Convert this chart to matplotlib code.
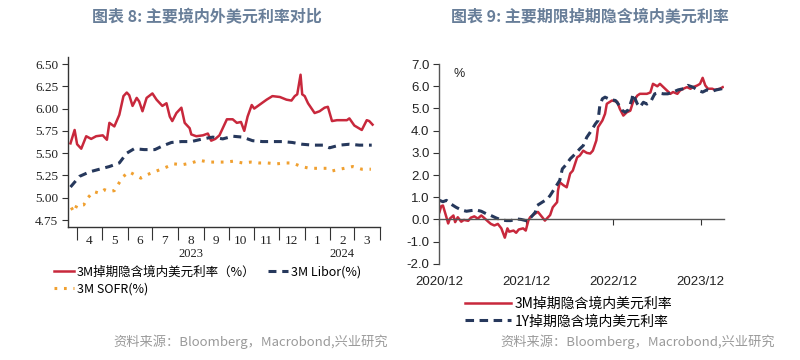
import pandas as pd
import matplotlib
matplotlib.use("Agg")
import matplotlib.pyplot as plt
import matplotlib.dates as mdates
import matplotlib.transforms as mtransforms
from matplotlib.ticker import FuncFormatter, NullFormatter, FixedLocator

plt.rcParams['font.family'] = ['Noto Sans CJK SC', 'DejaVu Sans']

RED = '#C8283C'
NAVY = '#26385C'
ORANGE = '#F0A030'
TITLE_C = '#687E99'
SRC_C = '#9A9A9A'

# ---- chart 8 data ----
red_dates = ['2023-03-24', '2023-03-29', '2023-04-01', '2023-04-06', '2023-04-12', '2023-04-18',
             '2023-04-24', '2023-05-02', '2023-05-07', '2023-05-10', '2023-05-16', '2023-05-22',
             '2023-05-27', '2023-05-31', '2023-06-03', '2023-06-07', '2023-06-12', '2023-06-15',
             '2023-06-19', '2023-06-24', '2023-07-01', '2023-07-06', '2023-07-13', '2023-07-18',
             '2023-07-22', '2023-07-25', '2023-07-30', '2023-08-05', '2023-08-09', '2023-08-15',
             '2023-08-17', '2023-08-23', '2023-08-31', '2023-09-06', '2023-09-10', '2023-09-15',
             '2023-09-20', '2023-09-29', '2023-10-06', '2023-10-11', '2023-10-16', '2023-10-20',
             '2023-10-24', '2023-10-29', '2023-11-01', '2023-11-07', '2023-11-16', '2023-11-23',
             '2023-12-02', '2023-12-10', '2023-12-16', '2023-12-20', '2023-12-23', '2023-12-27',
             '2023-12-29', '2024-01-01', '2024-01-05', '2024-01-13', '2024-01-19', '2024-01-25',
             '2024-01-29', '2024-02-03', '2024-02-09', '2024-02-21', '2024-02-24', '2024-03-01',
             '2024-03-10', '2024-03-16', '2024-03-19', '2024-03-23']
red_vals = [5.61, 5.76, 5.60, 5.55, 5.69, 5.66,
            5.69, 5.70, 5.65, 5.84, 5.80, 5.93,
            6.14, 6.18, 6.15, 6.03, 6.12, 6.08,
            5.97, 6.12, 6.17, 6.10, 6.03, 6.06,
            5.91, 5.86, 5.95, 6.01, 5.84, 5.78,
            5.71, 5.69, 5.70, 5.72, 5.64, 5.66,
            5.70, 5.88, 5.88, 5.84, 5.85, 5.75,
            5.91, 6.04, 6.00, 6.04, 6.10, 6.14,
            6.13, 6.10, 6.09, 6.14, 6.16, 6.38,
            6.16, 6.14, 6.06, 5.95, 5.97, 6.01,
            6.02, 5.86, 5.87, 5.87, 5.89, 5.81,
            5.76, 5.87, 5.86, 5.82]

libor_dates = ['2023-03-24', '2023-04-04', '2023-04-16', '2023-04-28', '2023-05-10', '2023-05-22',
               '2023-05-31', '2023-06-09', '2023-06-21', '2023-07-04', '2023-07-13', '2023-07-24',
               '2023-08-05', '2023-08-17', '2023-08-31', '2023-09-12', '2023-09-24', '2023-10-06',
               '2023-10-18', '2023-10-30', '2023-11-11', '2023-11-23', '2023-12-05', '2023-12-17',
               '2023-12-29', '2024-01-11', '2024-01-23', '2024-01-31', '2024-02-12', '2024-02-24',
               '2024-03-07', '2024-03-22']
libor_vals = [5.12, 5.24, 5.29, 5.32, 5.35, 5.39,
              5.50, 5.55, 5.54, 5.54, 5.58, 5.62,
              5.63, 5.63, 5.66, 5.68, 5.66, 5.69,
              5.68, 5.64, 5.63, 5.63, 5.63, 5.62,
              5.60, 5.59, 5.59, 5.56, 5.59, 5.60,
              5.59, 5.59]

sofr_dates = ['2023-03-25', '2023-03-28', '2023-04-01', '2023-04-09', '2023-04-14', '2023-04-21',
              '2023-04-28', '2023-05-04', '2023-05-10', '2023-05-16', '2023-05-22', '2023-05-27',
              '2023-06-03', '2023-06-09', '2023-06-17', '2023-06-25', '2023-07-06', '2023-07-17',
              '2023-07-27', '2023-08-06', '2023-08-17', '2023-08-27', '2023-09-07', '2023-09-18',
              '2023-09-27', '2023-10-07', '2023-10-18', '2023-10-28', '2023-11-07', '2023-11-17',
              '2023-11-28', '2023-12-08', '2023-12-17', '2023-12-28', '2024-01-07', '2024-01-17',
              '2024-01-28', '2024-02-03', '2024-02-12', '2024-02-18', '2024-02-28', '2024-03-10',
              '2024-03-21']
sofr_vals = [4.89, 4.84, 4.92, 4.92, 5.00, 5.07,
             5.05, 5.09, 5.07, 5.08, 5.17, 5.24,
             5.29, 5.26, 5.22, 5.26, 5.30, 5.34,
             5.38, 5.37, 5.39, 5.42, 5.40, 5.40,
             5.40, 5.41, 5.39, 5.40, 5.39, 5.39,
             5.38, 5.39, 5.39, 5.35, 5.33, 5.33,
             5.33, 5.30, 5.32, 5.33, 5.35, 5.32,
             5.32]

# ---- chart 9 data (x in decimal years) ----
m3_t = [2020.92, 2020.94, 2020.96, 2021.00, 2021.02, 2021.04, 2021.08, 2021.10, 2021.13, 2021.17,
        2021.20, 2021.25, 2021.28, 2021.32, 2021.36, 2021.40, 2021.43, 2021.48, 2021.51, 2021.55,
        2021.59, 2021.63, 2021.67, 2021.70, 2021.72, 2021.77, 2021.80, 2021.83, 2021.88, 2021.91,
        2021.94, 2021.96, 2022.02, 2022.05, 2022.10, 2022.13, 2022.19, 2022.22, 2022.27, 2022.28,
        2022.30, 2022.34, 2022.38, 2022.42, 2022.45, 2022.50, 2022.53, 2022.57, 2022.61, 2022.65,
        2022.68, 2022.72, 2022.74, 2022.79, 2022.82, 2022.84, 2022.90, 2022.96, 2022.99, 2023.03,
        2023.07, 2023.11, 2023.14, 2023.19, 2023.22, 2023.30, 2023.34, 2023.37, 2023.42, 2023.45,
        2023.49, 2023.53, 2023.57, 2023.60, 2023.65, 2023.68, 2023.72, 2023.76, 2023.80, 2023.83,
        2023.88, 2023.91, 2023.94, 2023.97, 2024.00, 2024.05, 2024.08, 2024.14, 2024.17]
m3_vals = [0.33, 0.60, 0.63, 0.10, -0.18, 0.04, 0.18, -0.12, 0.10, -0.10,
           -0.02, -0.06, 0.08, 0.14, 0.04, 0.18, 0.08, -0.10, -0.20, -0.27,
           -0.20, -0.40, -0.82, -0.40, -0.55, -0.50, -0.60, -0.45, -0.40, -0.50,
           -0.05, 0.10, 0.27, 0.34, 0.10, -0.05, 0.20, 0.55, 0.78, 1.30,
           1.68, 1.55, 1.45, 2.07, 2.20, 2.80, 2.88, 3.10, 3.00, 2.97,
           3.10, 3.56, 4.16, 4.46, 4.76, 5.21, 5.36, 5.30, 4.98, 4.68,
           4.83, 4.90, 5.28, 5.58, 5.66, 5.66, 5.72, 6.11, 6.00, 6.11,
           5.96, 5.81, 5.66, 5.74, 5.66, 5.81, 5.89, 5.96, 5.89, 5.96,
           6.04, 6.11, 6.38, 6.04, 5.89, 5.89, 5.84, 5.89, 5.96]

y1_t = [2020.92, 2020.96, 2021.00, 2021.05, 2021.11, 2021.17, 2021.23, 2021.28, 2021.34, 2021.40,
        2021.46, 2021.51, 2021.57, 2021.63, 2021.69, 2021.74, 2021.80, 2021.86, 2021.91, 2021.97,
        2022.02, 2022.04, 2022.10, 2022.16, 2022.19, 2022.25, 2022.30, 2022.33, 2022.38, 2022.42,
        2022.48, 2022.53, 2022.57, 2022.61, 2022.65, 2022.71, 2022.74, 2022.76, 2022.79, 2022.82,
        2022.88, 2022.94, 2022.97, 2023.02, 2023.05, 2023.09, 2023.13, 2023.14, 2023.19, 2023.22,
        2023.26, 2023.30, 2023.34, 2023.39, 2023.43, 2023.49, 2023.54, 2023.60, 2023.66, 2023.72,
        2023.77, 2023.83, 2023.89, 2023.94, 2023.99, 2024.05, 2024.10, 2024.16, 2024.20]
y1_vals = [0.86, 0.80, 0.86, 0.70, 0.55, 0.43, 0.37, 0.40, 0.43, 0.37,
           0.25, 0.18, 0.07, -0.02, -0.05, -0.05, 0.03, 0.00, -0.05, 0.10,
           0.33, 0.63, 0.78, 0.93, 1.08, 1.45, 1.76, 2.28, 2.50, 2.73,
           2.96, 3.18, 3.33, 3.70, 3.93, 4.31, 4.46, 5.13, 5.44, 5.51,
           5.40, 5.36, 5.21, 4.91, 4.83, 4.95, 5.44, 5.66, 5.21, 5.06,
           5.28, 5.20, 5.28, 5.66, 5.70, 5.66, 5.66, 5.74, 5.84, 5.89,
           6.04, 5.96, 5.81, 5.74, 5.84, 5.78, 5.84, 5.89, 6.00]

year_ticks = [2020.917, 2021.917, 2022.917, 2023.917]
year_tick_labels = ['2020/12', '2021/12', '2022/12', '2023/12']

fig = plt.figure(figsize=(8, 3.6), dpi=100)

# ================= left chart =================
ax1 = fig.add_axes([0.085, 0.369, 0.39, 0.473])
ax1.plot(pd.to_datetime(red_dates), red_vals, color=RED, lw=1.8,
         label='3M掉期隐含境内美元利率（%）')
ax1.plot(pd.to_datetime(sofr_dates), sofr_vals, color=ORANGE, lw=2.2,
         linestyle=(0, (0.9, 2.2)), label='3M SOFR(%)')
ax1.plot(pd.to_datetime(libor_dates), libor_vals, color=NAVY, lw=2.2,
         linestyle=(0, (2.6, 1.9)), label='3M Libor(%)')

ax1.set_xlim(pd.Timestamp('2023-03-21'), pd.Timestamp('2024-04-01'))
ax1.set_ylim(4.67, 6.58)
ax1.set_yticks([4.75, 5.00, 5.25, 5.50, 5.75, 6.00, 6.25, 6.50])
ax1.yaxis.set_major_formatter(FuncFormatter(lambda v, p: '%.2f' % v))
for s in ['top', 'right']:
    ax1.spines[s].set_visible(False)
for s in ['left', 'bottom']:
    ax1.spines[s].set_color('#333333')
    ax1.spines[s].set_linewidth(1.0)

ax1.xaxis.set_major_locator(mdates.MonthLocator())
ax1.xaxis.set_major_formatter(NullFormatter())
ax1.xaxis.set_minor_locator(mdates.MonthLocator(bymonthday=16))
ax1.xaxis.set_minor_formatter(FuncFormatter(lambda v, p: str(mdates.num2date(v).month)))
ax1.tick_params(axis='x', which='major', length=4, direction='out', color='#333333')
ax1.tick_params(axis='x', which='minor', length=0, pad=6)
ax1.tick_params(axis='y', length=4, direction='out', color='#333333', pad=3)
for t in ax1.xaxis.get_major_ticks():
    if mdates.num2date(t.get_loc()).month == 1:
        t.tick1line.set_markersize(9)
for lab in ax1.get_xticklabels(minor=True) + ax1.get_yticklabels():
    lab.set_fontfamily('Liberation Serif')
    lab.set_fontsize(9.5)
    lab.set_color('#222222')

trans1 = mtransforms.blended_transform_factory(ax1.transData, ax1.transAxes)
ax1.text(mdates.date2num(pd.Timestamp('2023-08-17')), -0.16, '2023', transform=trans1,
         ha='center', va='center', fontsize=9, family='Liberation Serif', color='#222222')
ax1.text(mdates.date2num(pd.Timestamp('2024-02-15')), -0.16, '2024', transform=trans1,
         ha='center', va='center', fontsize=9, family='Liberation Serif', color='#222222')

ax1.legend(loc='upper left', bbox_to_anchor=(-0.045, -0.225), ncol=2, frameon=False,
           fontsize=9, handlelength=1.6, handletextpad=0.25, columnspacing=1.0,
           labelspacing=0.3, borderaxespad=0, borderpad=0)

# ================= right chart =================
ax2 = fig.add_axes([0.549, 0.267, 0.356, 0.555])
ax2.plot(m3_t, m3_vals, color=RED, lw=1.8, label='3M掉期隐含境内美元利率')
ax2.plot(y1_t, y1_vals, color=NAVY, lw=2.2, linestyle=(0, (2.8, 1.8)),
         label='1Y掉期隐含境内美元利率')
ax2.set_xlim(2020.917, 2024.185)
ax2.set_ylim(-2.0, 7.0)
ax2.set_yticks([-2, -1, 0, 1, 2, 3, 4, 5, 6, 7])
ax2.yaxis.set_major_formatter(FuncFormatter(lambda v, p: '%.1f' % v))
ax2.xaxis.set_major_locator(FixedLocator(year_ticks))
ax2.set_xticklabels(year_tick_labels)
ax2.spines['top'].set_visible(False)
ax2.spines['right'].set_visible(False)
ax2.spines['bottom'].set_position(('data', 0))
for s in ['left', 'bottom']:
    ax2.spines[s].set_color('#555555')
    ax2.spines[s].set_linewidth(1.0)
ax2.tick_params(axis='x', length=4, direction='out', color='#333333', pad=37, labelsize=9.5)
ax2.tick_params(axis='y', length=4, direction='out', color='#333333', pad=3, labelsize=9.5)
for lab in ax2.get_xticklabels() + ax2.get_yticklabels():
    lab.set_fontfamily('Liberation Sans')
    lab.set_color('#222222')
ax2.text(0.05, 0.95, '%', transform=ax2.transAxes, fontsize=9, family='Liberation Sans',
         color='#222222', va='center', ha='left')
ax2.legend(loc='upper left', bbox_to_anchor=(0.09, -0.165), ncol=1, frameon=False,
           fontsize=10, handlelength=3.3, handletextpad=0.3, labelspacing=0.25,
           borderaxespad=0, borderpad=0)

# ================= titles / sources =================
fig.text(0.259, 0.953, '图表 8: 主要境内外美元利率对比', ha='center', va='center',
         fontsize=11.5, fontweight='bold', color=TITLE_C)
fig.text(0.738, 0.953, '图表 9: 主要期限掉期隐含境内美元利率', ha='center', va='center',
         fontsize=11.5, fontweight='bold', color=TITLE_C)
fig.text(0.485, 0.05, '资料来源：Bloomberg，Macrobond,兴业研究', ha='right', va='center',
         fontsize=9.5, color=SRC_C)
fig.text(0.969, 0.052, '资料来源：Bloomberg，Macrobond,兴业研究', ha='right', va='center',
         fontsize=9.5, color=SRC_C)

fig.savefig('out.png', dpi=100)
